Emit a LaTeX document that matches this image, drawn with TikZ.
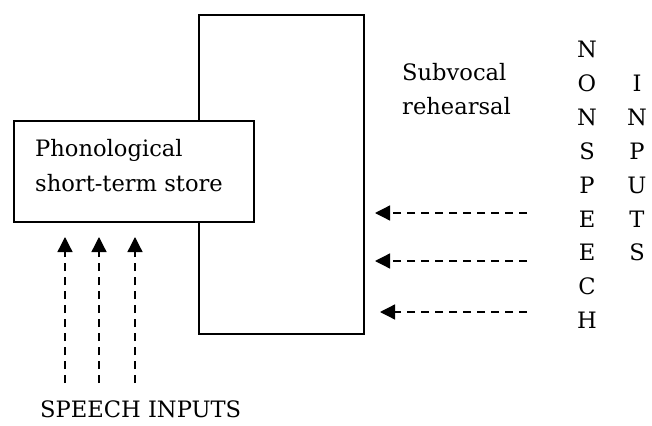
\documentclass[tikz,border=0pt]{standalone}
\usepackage{fontspec}
\setmainfont{DejaVu Serif}
\usetikzlibrary{arrows.meta}
\begin{document}
\begin{tikzpicture}[x=1pt,y=-1pt,
  box/.style={draw, line width=1.6pt, inner sep=0pt, anchor=north west},
  lbl/.style={inner sep=0pt, font=\fontsize{22.6}{27}\selectfont},
  dasharrow/.style={line width=1.3pt, dash pattern=on 8pt off 6pt,
    -{Triangle[width=15pt,length=15pt]}},
]
\useasboundingbox (0,0) rectangle (652,425);
% tall rehearsal box
\node[box, minimum width=165pt, minimum height=319pt] (loop) at (198,14) {};
% phonological store box drawn on top
\node[box, fill=white, minimum width=240pt, minimum height=101pt] (store) at (13,120) {};
\node[lbl, anchor=base west] (store1) at (35,156) {Phonological};
\node[lbl, anchor=base west] (store2) at (35,191) {short-term store};
% subvocal rehearsal label
\node[lbl, anchor=base west] (sub1) at (402,81) {Subvocal};
\node[lbl, anchor=base west] (sub2) at (402,114) {rehearsal};
% NONSPEECH INPUTS
\foreach \c [count=\i] in {N,O,N,S,P,E,E,C,H}
  \node[lbl, anchor=base] (ns\i) at (587,{58+33.8*(\i-1)}) {\c};
\foreach \c [count=\i] in {I,N,P,U,T,S}
  \node[lbl, anchor=base] (in\i) at (637,{58+33.8*\i}) {\c};
% speech inputs
\node[lbl, anchor=base west] (speech) at (40,417) {SPEECH INPUTS};
% vertical arrows
\foreach \x [count=\i] in {65,99,135} {
  \coordinate (sa\i) at (\x,383);
  \coordinate (sb\i) at (\x,237);
  \draw[dasharrow] (sa\i) -- (sb\i);
}
% horizontal arrows
\foreach \y/\t [count=\i] in {213/375,261/375,312/380} {
  \coordinate (ha\i) at (527,\y);
  \coordinate (hb\i) at (\t,\y);
  \draw[dasharrow] (ha\i) -- (hb\i);
}
\end{tikzpicture}
\end{document}
